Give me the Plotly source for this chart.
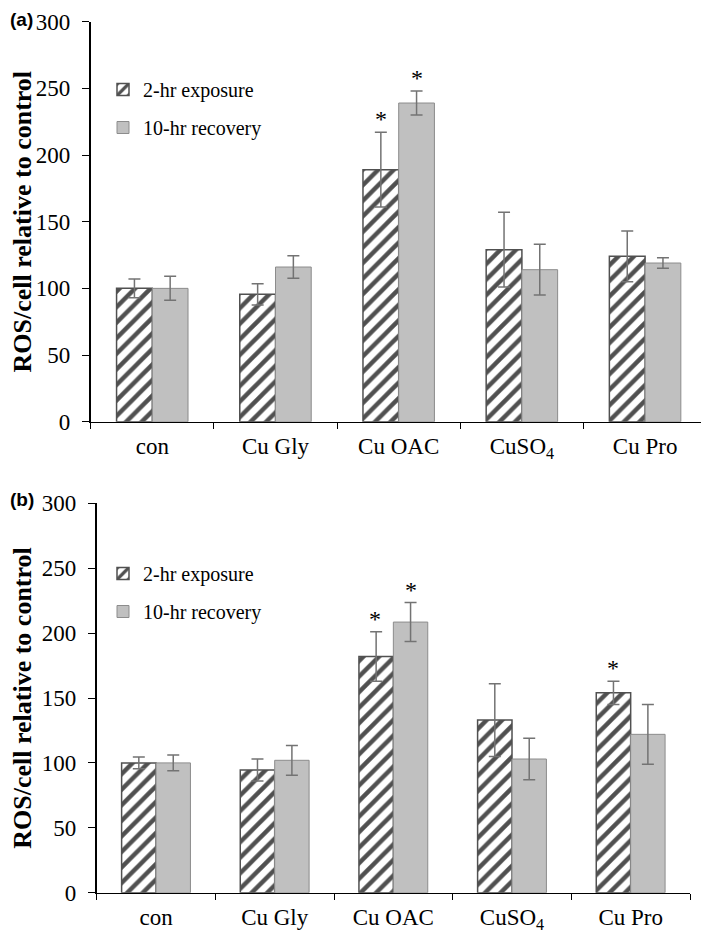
import plotly.graph_objects as go
from plotly.subplots import make_subplots

# ----- data -----
categories = ["con", "Cu Gly", "Cu OAC", "CuSO<sub>4</sub>", "Cu Pro"]

a_exposure = [100, 95.5, 189, 129, 124]
a_exposure_err = [7, 8, 28, 28, 19]
a_recovery = [100, 116, 239, 114, 119]
a_recovery_err = [9, 8.5, 9, 19, 4]

b_exposure = [100, 94.5, 182, 133, 154]
b_exposure_err = [4.5, 8.5, 19, 28, 9]
b_recovery = [100, 102, 208.5, 103, 122]
b_recovery_err = [6, 11.5, 15, 16, 23]

# significance stars: (category, series)
a_stars = [("Cu OAC", 0), ("Cu OAC", 1)]
b_stars = [("Cu OAC", 0), ("Cu OAC", 1), ("Cu Pro", 0)]

series_names = ["2-hr exposure", "10-hr recovery"]
y_ticks = [0, 50, 100, 150, 200, 250, 300]

SERIF = "Liberation Serif"
HATCH = "#505050"
GREY = "#c0c0c0"
ERR = "#737373"

W, H = 709, 937
OFF = 8  # page body margin in the browser


def fx(px):
    return (px - OFF) / W


def fy(py):
    return 1 - (py - OFF) / H


fig = make_subplots(rows=2, cols=1)


def add_panel(row, exp, exp_err, rec, rec_err, legend, tag):
    fig.add_trace(go.Bar(
        x=categories, y=exp, name=series_names[0],
        legend=legend, legendgroup=tag + "1",
        marker=dict(color="white",
                    line=dict(color=HATCH, width=1.5),
                    pattern=dict(shape="/", size=11, solidity=0.4,
                                 fgcolor=HATCH, bgcolor="white",
                                 fillmode="replace")),
        error_y=dict(type="data", array=exp_err, color=ERR,
                     thickness=1.5, width=6),
    ), row=row, col=1)
    fig.add_trace(go.Bar(
        x=categories, y=rec, name=series_names[1],
        legend=legend, legendgroup=tag + "2",
        marker=dict(color=GREY, line=dict(color="#8c8c8c", width=1)),
        error_y=dict(type="data", array=rec_err, color=ERR,
                     thickness=1.5, width=6),
    ), row=row, col=1)


add_panel(1, a_exposure, a_exposure_err, a_recovery, a_recovery_err, "legend", "a")
add_panel(2, b_exposure, b_exposure_err, b_recovery, b_recovery_err, "legend2", "b")

# stars above error bars
for row, stars, vals, errs in [
    (1, a_stars, [a_exposure, a_recovery], [a_exposure_err, a_recovery_err]),
    (2, b_stars, [b_exposure, b_recovery], [b_exposure_err, b_recovery_err]),
]:
    for cat, s in stars:
        i = categories.index(cat)
        fig.add_annotation(
            x=cat, y=vals[s][i] + errs[s][i],
            text="*", showarrow=False,
            xshift=-18 if s == 0 else 18, yshift=13, yanchor="middle",
            font=dict(family=SERIF, size=24, color="black"),
            row=row, col=1,
        )

fig.update_xaxes(
    type="category", tickson="boundaries", ticks="outside", ticklen=6,
    tickcolor="black", tickwidth=1.2, showline=True, linecolor="black",
    linewidth=1.2, showgrid=False, automargin=False, ticklabelstandoff=4,
    tickfont=dict(family=SERIF, size=23, color="black"),
)
fig.update_yaxes(
    range=[0, 300], tickvals=y_ticks, ticks="outside", ticklen=7,
    tickcolor="black", tickwidth=1.2, showline=True, linecolor="black",
    linewidth=1.5, showgrid=False, zeroline=False, automargin=False,
    ticklabelstandoff=7,
    tickfont=dict(family=SERIF, size=23, color="black"),
    title=dict(text="<b>ROS/cell relative to control</b>", standoff=14,
               font=dict(family=SERIF, size=26, color="black")),
)

legend_style = dict(
    font=dict(family=SERIF, size=20, color="black"),
    bgcolor="rgba(0,0,0,0)", traceorder="grouped", tracegroupgap=9,
    xanchor="left", yanchor="top", itemwidth=30,
)

fig.update_layout(
    width=W, height=H,
    margin=dict(l=0, r=0, t=0, b=0),
    plot_bgcolor="white", paper_bgcolor="white",
    barmode="group", bargap=0.42, bargroupgap=0,
    showlegend=True,
    xaxis=dict(domain=[fx(90.7), fx(706.7)]),
    yaxis=dict(domain=[fy(421.7), fy(21.7)]),
    xaxis2=dict(domain=[fx(96.7), fx(690)]),
    yaxis2=dict(domain=[fy(892.7), fy(503.3)]),
    legend=dict(x=fx(103), y=fy(70), **legend_style),
    legend2=dict(x=fx(103), y=fy(554), **legend_style),
)

# panel letters
for txt, py in [("(a)", 20), ("(b)", 499)]:
    fig.add_annotation(
        text="<b>%s</b>" % txt, xref="paper", yref="paper",
        x=0, y=fy(py), xanchor="left", yanchor="middle", showarrow=False,
        font=dict(family="Liberation Sans", size=19, color="black"),
    )

fig.write_html("out.html")
